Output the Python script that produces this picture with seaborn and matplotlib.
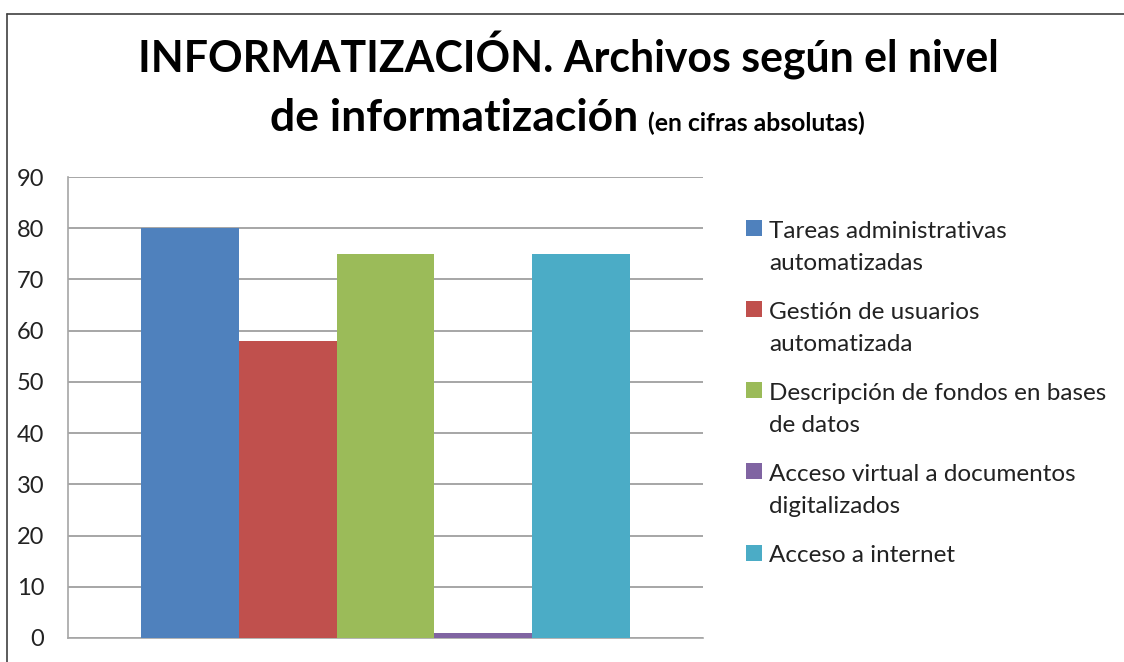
import matplotlib
matplotlib.use("Agg")
import matplotlib.pyplot as plt
from matplotlib.patches import Patch, Rectangle
from matplotlib.legend_handler import HandlerPatch
import seaborn as sns
import pandas as pd

# Data
series = [
    "Tareas administrativas automatizadas",
    "Gestión de usuarios automatizada",
    "Descripción de fondos en bases de datos",
    "Acceso virtual a documentos digitalizados",
    "Acceso a internet",
]
legend_labels = [
    "Tareas administrativas\nautomatizadas",
    "Gestión de usuarios\nautomatizada",
    "Descripción de fondos en bases\nde datos",
    "Acceso virtual a documentos\ndigitalizados",
    "Acceso a internet",
]
values = [80, 58, 75, 1, 75]
colors = ["#4F81BD", "#C0504D", "#9BBB59", "#8064A2", "#4BACC6"]
yticks = [0, 10, 20, 30, 40, 50, 60, 70, 80, 90]

FONT = "Lato"

sns.set_theme(style="white")
plt.rcParams["font.family"] = [FONT, "DejaVu Sans"]

df = pd.DataFrame({"grupo": [""] * len(series), "serie": series, "valor": values})

fig = plt.figure(figsize=(11.24, 6.62), dpi=100)
W, H = 1124, 662

def fx(px):
    return px / W

def fy(py):
    return 1 - py / H

ax = fig.add_axes([fx(68), fy(638), fx(703) - fx(68), fy(177) - fy(638)])

sns.barplot(
    data=df, x="grupo", y="valor", hue="serie", hue_order=series,
    palette=colors, saturation=1, width=0.77, legend=False,
    linewidth=0, ax=ax, zorder=3,
)

ax.set_xlim(-0.5, 0.5)
ax.set_ylim(0, 90)
ax.set_yticks(yticks)
ax.set_yticklabels([str(t) for t in yticks], fontsize=17, color="#222222")
ax.tick_params(axis="y", length=0, pad=17)
ax.set_xticks([])
ax.set_xlabel("")
ax.set_ylabel("")
ax.grid(axis="y", color="#a6a6a6", linewidth=1.4, zorder=0)
ax.set_axisbelow(True)
for side in ("top", "right"):
    ax.spines[side].set_visible(False)
for side in ("left", "bottom"):
    ax.spines[side].set_color("#a6a6a6")
    ax.spines[side].set_linewidth(1.2)

# Legend: swatch sits beside the first line of each label
fontsize = 17.5
line_step = 1.66
swatch_lift = 14.1  # points per extra label line
nlines = {}
handles = []
for lab, c in zip(legend_labels, colors):
    h = Patch(facecolor=c, edgecolor="none")
    nlines[id(h)] = lab.count("\n") + 1
    handles.append(h)

def swatch(legend, orig_handle, xdescent, ydescent, width, height, fontsize):
    n = nlines.get(id(orig_handle), 1)
    shift = (n - 1) * swatch_lift
    return Rectangle((-xdescent, -ydescent + shift), width, height)

leg = fig.legend(
    handles, legend_labels,
    handler_map={Patch: HandlerPatch(patch_func=swatch)},
    loc="upper left", bbox_to_anchor=(fx(746), fy(221)),
    frameon=False, fontsize=fontsize, handlelength=0.66, handleheight=0.66,
    handletextpad=0.3, labelspacing=1.14, borderpad=0, borderaxespad=0,
)
for t in leg.get_texts():
    t.set_linespacing(line_step)
    t.set_color("#222222")

# Title
fig.text(fx(568), fy(72), "INFORMATIZACIÓN. Archivos según el nivel",
         ha="center", va="baseline", fontsize=30.8, fontweight="bold", color="black")
fig.text(fx(638), fy(131), "de informatización",
         ha="right", va="baseline", fontsize=32, fontweight="bold", color="black")
fig.text(fx(648), fy(131), "(en cifras absolutas)",
         ha="left", va="baseline", fontsize=17.8, fontweight="bold", color="black")

# Chart frame (left and top edges)
fig.add_artist(plt.Line2D([fx(7), fx(7)], [fy(14), -0.01], color="#404040", linewidth=1.2))
fig.add_artist(plt.Line2D([fx(7), 1.01], [fy(14), fy(14)], color="#404040", linewidth=1.2))

fig.savefig("out.png", dpi=100, facecolor="white")
